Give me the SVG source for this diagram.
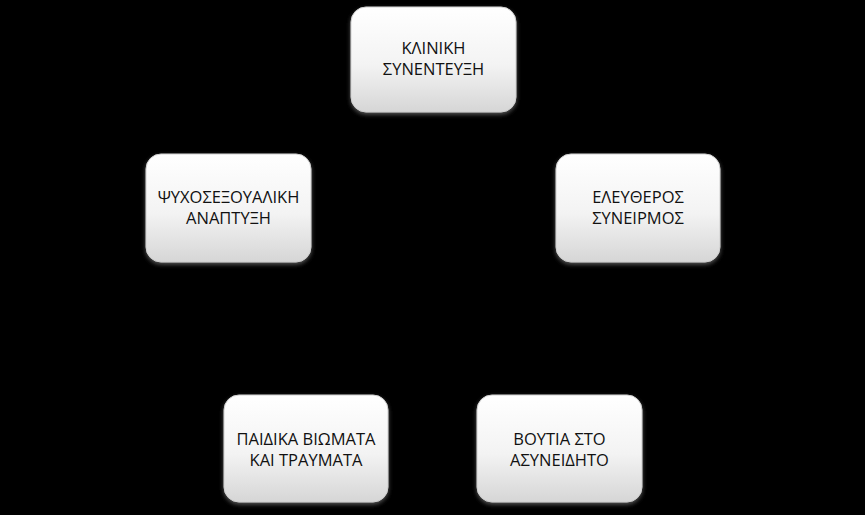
<svg xmlns="http://www.w3.org/2000/svg" width="865" height="515" viewBox="0 0 865 515">
<defs>
<linearGradient id="fill" x1="0" y1="0" x2="0" y2="1">
<stop offset="0" stop-color="#ffffff"/>
<stop offset="0.55" stop-color="#f3f3f3"/>
<stop offset="1" stop-color="#d6d6d6"/>
</linearGradient>
<filter id="shadow" x="-10%" y="-10%" width="125%" height="130%">
<feGaussianBlur in="SourceAlpha" stdDeviation="2"/>
<feOffset dx="0" dy="2" result="b"/>
<feFlood flood-color="#555555"/>
<feComposite in2="b" operator="in" result="s"/>
<feMerge><feMergeNode in="s"/><feMergeNode in="SourceGraphic"/></feMerge>
</filter>
</defs>
<style>
.box{fill:url(#fill);stroke:#cfcfcf;stroke-width:1;filter:url(#shadow)}
.lbl{font-family:"Open Sans","Liberation Sans",sans-serif;font-size:16.5px;fill:#111111;text-anchor:middle}
</style>
<rect width="865" height="515" fill="#000000"/>
<g id="connectors"></g>
<g id="node-kliniki">
<rect class="box" x="351" y="7" width="165" height="105" rx="15"/>
<text class="lbl" x="433.5" y="54">ΚΛΙΝΙΚΗ</text>
<text class="lbl" x="433.5" y="75">ΣΥΝΕΝΤΕΥΞΗ</text>
</g>
<g id="node-psycho">
<rect class="box" x="146" y="154" width="165" height="108" rx="15"/>
<text class="lbl" x="228.5" y="203">ΨΥΧΟΣΕΞΟΥΑΛΙΚΗ</text>
<text class="lbl" x="228.5" y="224">ΑΝΑΠΤΥΞΗ</text>
</g>
<g id="node-eleftheros">
<rect class="box" x="556" y="154" width="164" height="108" rx="15"/>
<text class="lbl" x="638" y="203">ΕΛΕΥΘΕΡΟΣ</text>
<text class="lbl" x="638" y="224">ΣΥΝΕΙΡΜΟΣ</text>
</g>
<g id="node-paidika">
<rect class="box" x="224" y="395" width="164" height="107" rx="15"/>
<text class="lbl" x="306" y="445">ΠΑΙΔΙΚΑ ΒΙΩΜΑΤΑ</text>
<text class="lbl" x="306" y="466">ΚΑΙ ΤΡΑΥΜΑΤΑ</text>
</g>
<g id="node-voutia">
<rect class="box" x="477" y="395" width="165" height="107" rx="15"/>
<text class="lbl" x="559.5" y="445">ΒΟΥΤΙΑ ΣΤΟ</text>
<text class="lbl" x="559.5" y="466">ΑΣΥΝΕΙΔΗΤΟ</text>
</g>
</svg>
